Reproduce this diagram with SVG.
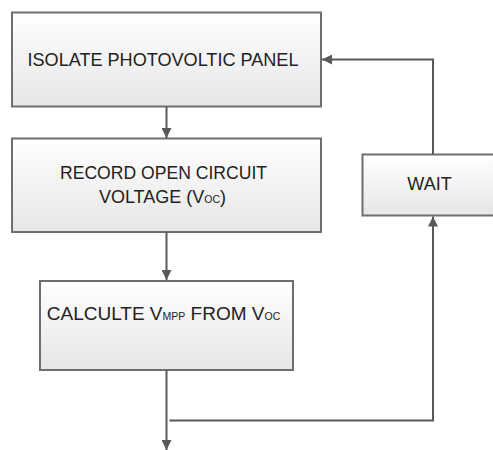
<svg xmlns="http://www.w3.org/2000/svg" width="493" height="450" viewBox="0 0 493 450">
<defs>
<linearGradient id="g" x1="0" y1="0" x2="0" y2="1">
<stop offset="0" stop-color="#ffffff"/>
<stop offset="1" stop-color="#e6e6e6"/>
</linearGradient>
<marker id="ah" viewBox="0 0 10 10" refX="10" refY="5" markerWidth="10" markerHeight="10" markerUnits="userSpaceOnUse" orient="auto">
<path d="M0,0 L10,5 L0,10 Z" fill="#595959"/>
</marker>
</defs>
<style>
.box{fill:url(#g);stroke:#6e6e6e;stroke-width:2}
.t{font-family:"Liberation Sans",Arial,sans-serif;font-size:18px;fill:#222;text-anchor:middle}
.s{font-size:10.5px}
.c{fill:none;stroke:#595959;stroke-width:2}
</style>
<rect width="493" height="450" fill="#fff"/>
<g id="isolate">
<rect class="box" x="12" y="12.5" width="309" height="94"/>
<text class="t" x="163" y="65.5" textLength="271" lengthAdjust="spacingAndGlyphs">ISOLATE PHOTOVOLTIC PANEL</text>
</g>
<g id="record">
<rect class="box" x="12" y="138.5" width="309" height="93.5"/>
<text class="t" x="163.5" y="179" textLength="207" lengthAdjust="spacingAndGlyphs">RECORD OPEN CIRCUIT</text>
<text class="t" x="162.5" y="202.5">VOLTAGE (V<tspan class="s">OC</tspan>)</text>
</g>
<g id="calculate">
<rect class="box" x="40" y="281" width="253" height="89"/>
<text class="t" x="163.5" y="320" style="font-size:19px">CALCULTE V<tspan class="s">MPP</tspan> FROM V<tspan class="s">OC</tspan></text>
</g>
<g id="wait">
<rect class="box" x="362.5" y="154.5" width="140" height="61"/>
<text class="t" x="429.5" y="190">WAIT</text>
</g>
<g id="connectors">
<line class="c" x1="166.5" y1="107" x2="166.5" y2="138" marker-end="url(#ah)"/>
<line class="c" x1="166.5" y1="232" x2="166.5" y2="280" marker-end="url(#ah)"/>
<line class="c" x1="166.5" y1="370" x2="166.5" y2="450" marker-end="url(#ah)"/>
<polyline class="c" points="169.5,420.5 433,420.5 433,216.5" marker-end="url(#ah)"/>
<polyline class="c" points="433,154 433,59.5 322,59.5" marker-end="url(#ah)"/>
</g>
</svg>
